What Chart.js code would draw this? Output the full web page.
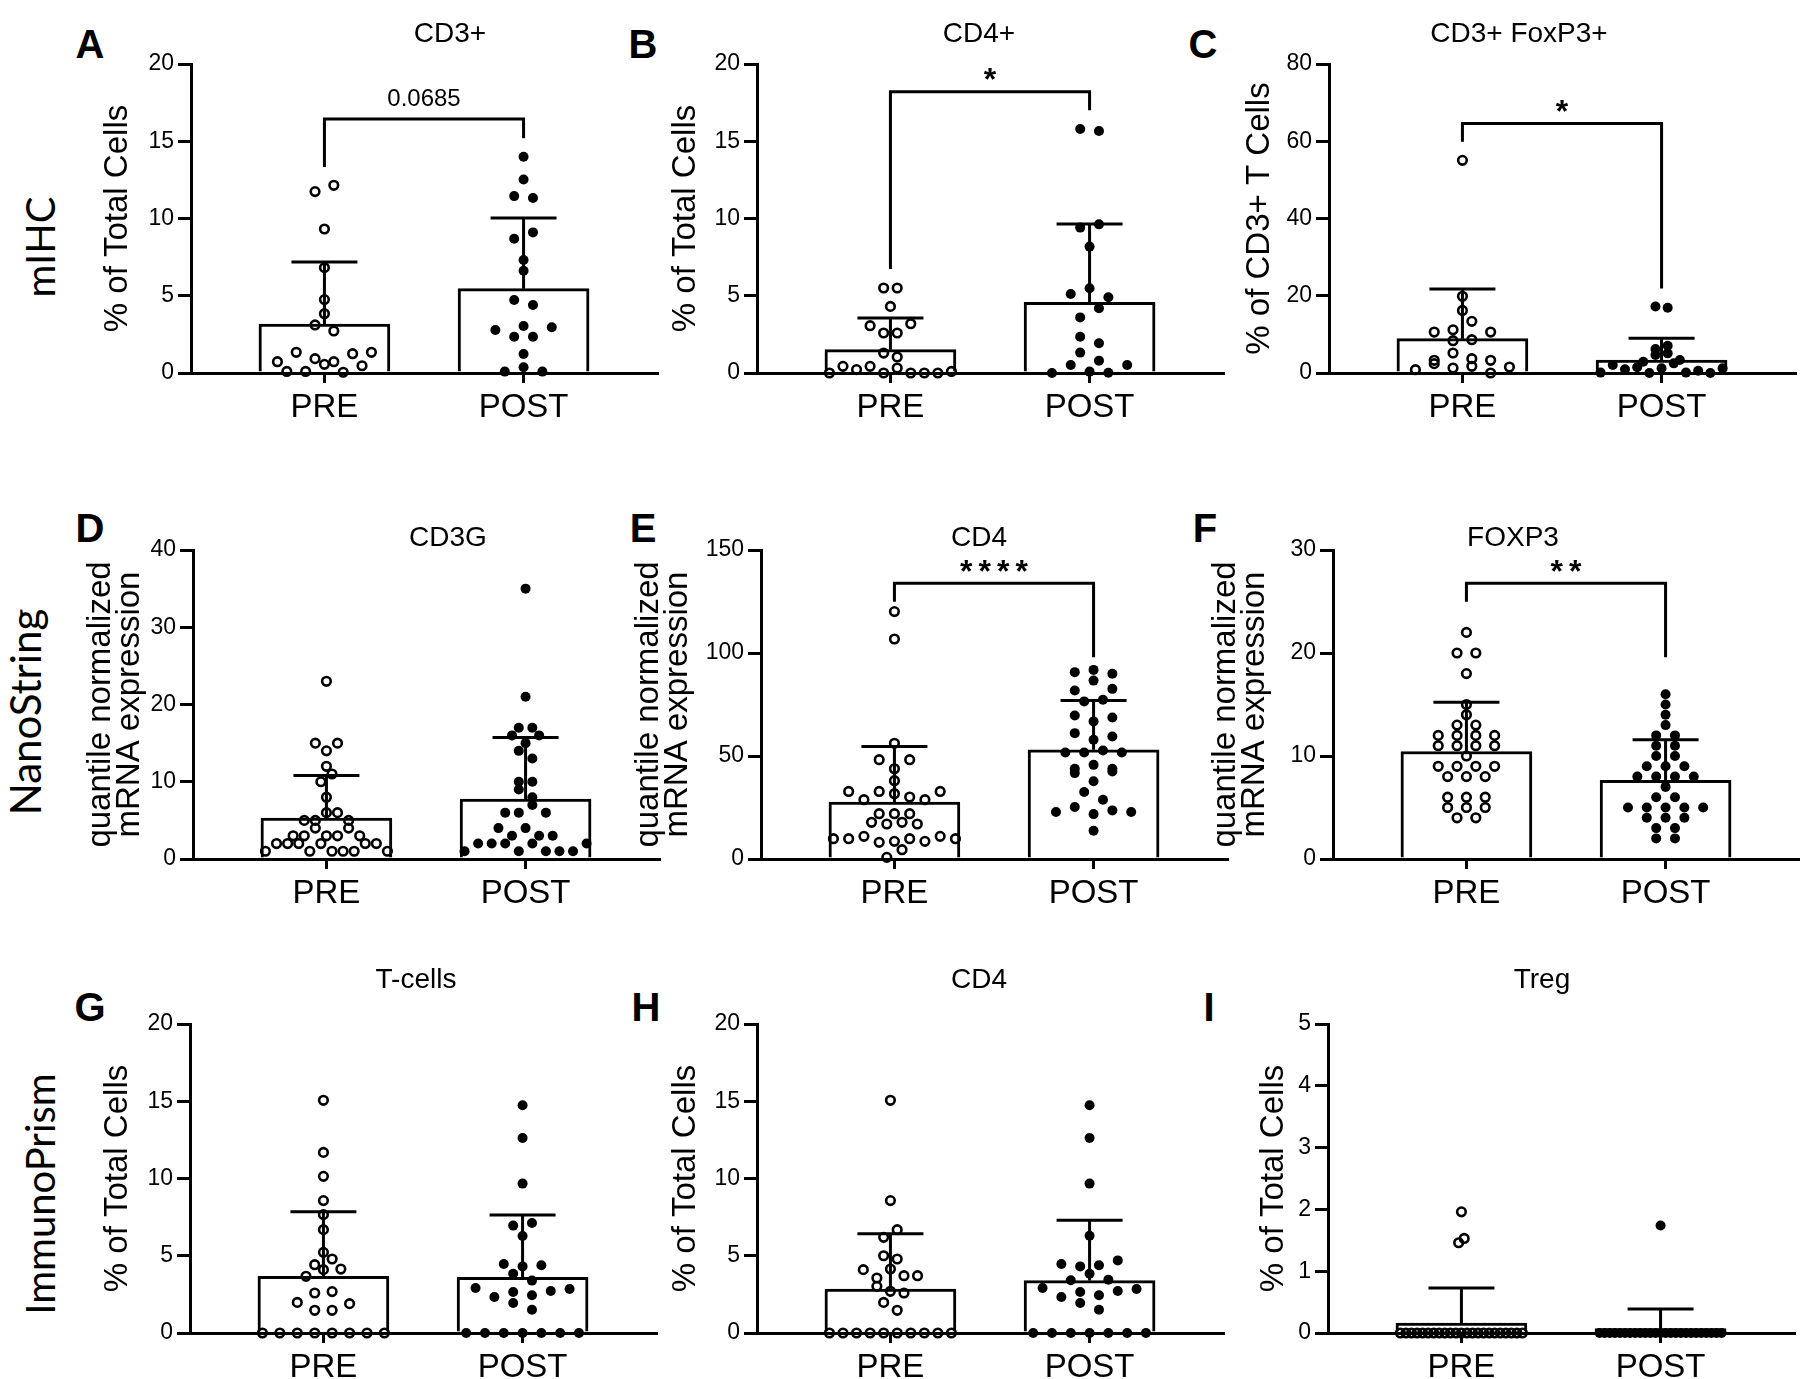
<!DOCTYPE html>
<html><head><meta charset="utf-8">
<script src="https://cdn.jsdelivr.net/npm/chart.js@4.4.1/dist/chart.umd.min.js"></script>
<style>
html,body{margin:0;padding:0;background:#fff;width:1800px;height:1379px;overflow:hidden;position:relative;}
canvas{position:absolute;}
.lbl{position:absolute;transform:translate(-50%,-50%);white-space:nowrap;color:#000;line-height:1;}
.letter{font:bold 40px 'Liberation Sans',Arial,sans-serif;}
.row{font:40px Lato,'Open Sans',sans-serif;transform:translate(-50%,-50%) rotate(-90deg);}
</style></head><body>
<div class="lbl letter" style="left:90px;top:44px">A</div>
<div class="lbl letter" style="left:643px;top:44px">B</div>
<div class="lbl letter" style="left:1203px;top:44px">C</div>
<div class="lbl letter" style="left:90px;top:528px">D</div>
<div class="lbl letter" style="left:643px;top:528px">E</div>
<div class="lbl letter" style="left:1205px;top:528px">F</div>
<div class="lbl letter" style="left:90px;top:1007px">G</div>
<div class="lbl letter" style="left:646px;top:1007px">H</div>
<div class="lbl letter" style="left:1209px;top:1007px">I</div>
<div class="lbl row" style="left:40px;top:247px">mIHC</div>
<div class="lbl row" style="left:25px;top:712px;font-size:42px">NanoString</div>
<div class="lbl row" style="left:40px;top:1194px">ImmunoPrism</div>
<script>
Chart.defaults.font.family = "'Liberation Sans', Arial, sans-serif";
Chart.defaults.color = '#000';

// ---------------- DATA ----------------
const groupLabels = ['PRE', 'POST'];

// A  mIHC CD3+  (% of total cells)
const mihcCd3Pre  = [0.1,0.1,0.56,0.05,0.47,0.73,1.34,0.93,0.73,1.25,1.34,3.11,2.72,3.84,4.75,6.82,9.32,11.74,12.15];
const mihcCd3Post = [0.09,0.37,0.09,1.23,2.78,2.35,2.35,2.96,3.04,4.72,4.40,6.62,7.31,8.69,9.1,11.45,11.33,12.53,14.0];
const mihcCd3Mean = [3.17, 5.46];
const mihcCd3SD   = [4.01, 4.57];
const mihcCd3Bracket = [16.44, 13.33, 15.2];   // bar level, left leg end, right leg end
const mihcCd3Sig = '0.0685';

// B  mIHC CD4+
const mihcCd4Pre  = [0,0.43,0.22,0.43,0,0.32,0,0,0,0.1,1.29,1.04,3.06,2.59,2.59,3.19,4.31,5.5,5.5];
const mihcCd4Post = [0,0.52,0.09,0.02,0.52,1.32,0.8,2.35,1.92,3.6,4.19,5.11,5.48,4.9,8.18,9.41,9.62,15.79,15.66];
const mihcCd4Mean = [1.51, 4.58];
const mihcCd4SD   = [2.05, 5.06];
const mihcCd4Bracket = [18.2, 6.73, 17.0];
const mihcCd4Sig = '*';

// C  mIHC CD3+ FoxP3+ (% of CD3+ T cells)
const mihcTregPre  = [0.86,2.42,1.29,1.73,0,1.55,3.28,5.18,3.71,3.28,10.6,8.37,8.63,10.6,11.2,13.37,16.2,19.85,55.05];
const mihcTregPost = [0.1,2.07,0.95,1.47,0,1.21,2.5,0.1,0.6,0,1.21,2.93,4.66,5.09,3.37,6.2,7.07,17.2,16.9];
const mihcTregMean = [8.89, 3.37];
const mihcTregSD   = [12.85, 5.61];
const mihcTregBracket = [64.6, 59.9, 21.9];
const mihcTregSig = '*';

// D  NanoString CD3G
const nsCd3gPre  = [1,2,2,2,1,2,1,1,1,2,2,1,3,3,4,3,3,4,3,5,5,6,6,5,8,10,11,12,15,14,15,23];
const nsCd3gPost = [1,2,2,2,1,2,1,1,1,2,4,3,4,3,3,6,6,7,6,9,8,10,10,14,13,16,15,16,17,17,21,35];
const nsCd3gMean = [5.3, 7.76];
const nsCd3gSD   = [5.52, 7.97];

// E  NanoString CD4
const nsCd4Pre  = [0.8,4.53,9.86,9.86,11.0,8.08,8.57,9.86,8.57,11.0,9.86,17.8,17.0,17.8,17.0,22,22,22,32.8,28.8,32.8,31.7,30.1,28.8,32.8,38.0,48.2,43.8,48.2,56.2,106.8,120.1];
const nsCd4Post = [13.7,22.8,25.2,21.8,23.6,22.8,32.5,28.8,41.7,37.7,42.5,43.8,45.7,43.8,51.7,51.7,52.7,51.7,61.1,57.9,59.5,69.7,66.8,68.7,76.5,77.3,81.8,86.6,82.6,90.7,91.8,89.9];
const nsCd4Mean = [27.64, 53.0];
const nsCd4SD   = [26.96, 23.9];
const nsCd4Bracket = [133.8, 124.9, 97.9];
const nsCd4Sig = '****';

// F  NanoString FOXP3
const nsFoxp3Pre  = [4,4,5,5,5,6,6,6,8,8,8,9,9,9,9,10,11,11,11,11,12,12,12,12,13,13,14,15,18,20,20,22];
const nsFoxp3Post = [2,2,3,3,4,4,4,5,5,5,5,5,6,6,7,8,8,8,8,9,9,9,10,10,11,11,12,12,13,14,15,16];
const nsFoxp3Mean = [10.44, 7.63];
const nsFoxp3SD   = [4.79, 3.94];
const nsFoxp3Bracket = [26.77, 24.98, 19.58];
const nsFoxp3Sig = '**';

// G  ImmunoPrism T-cells
const ipTPre  = [0,0,0,0,0,0,0,0,1.98,1.47,1.47,1.9,2.59,2.68,3.67,4.1,4.14,4.42,4.79,5.22,6.69,7.66,8.57,10.14,11.69,15.06];
const ipTPost = [0,0,0,0,0,0,0,1.94,1.51,2.91,2.33,2.65,2.44,2.72,2.85,3.84,3.39,4.47,4.31,4.38,6.28,6.95,7.12,9.67,12.62,14.74];
const ipTMean = [3.67, 3.6];
const ipTSD   = [4.18, 4.04];

// H  ImmunoPrism CD4
const ipCd4Pre  = [0,0,0,0,0,0,0,0,0,0,1.98,1.47,3.02,2.7,2.59,4.1,3.56,4.14,3.71,3.71,5.0,4.79,6.19,6.69,8.57,15.06];
const ipCd4Post = [0,0,0,0,0,0,0,1.94,1.51,2.91,2.33,2.65,2.44,2.72,2.85,3.41,3.84,3.45,4.47,4.31,4.38,4.7,6.3,9.67,12.62,14.74];
const ipCd4Mean = [2.85, 3.39];
const ipCd4SD   = [3.58, 3.9];

// I  ImmunoPrism Treg
const ipTregPre  = [0,0,0,0,0,0,0,0,0,0,0,0,0,0,0,0,0,0,0,0,0,0,0,1.46,1.53,1.96];
const ipTregPost = [0,0,0,0,0,0,0,0,0,0,0,0,0,0,0,0,0,0,0,0,0,0,0,0,0,1.74];
const ipTregMean = [0.16, 0.07];
const ipTregSD   = [0.57, 0.32];

// ---------------- PANELS (layout) ----------------
const panels = [
  {title:'CD3+', yTitle:'% of Total Cells', yMax:20, yStep:5, pre:mihcCd3Pre, post:mihcCd3Post, mean:mihcCd3Mean, sd:mihcCd3SD, bracket:mihcCd3Bracket, sig:mihcCd3Sig,
   axisX:191, top:64, titleX:450, titleY:32, yTitleX:118},
  {title:'CD4+', yTitle:'% of Total Cells', yMax:20, yStep:5, pre:mihcCd4Pre, post:mihcCd4Post, mean:mihcCd4Mean, sd:mihcCd4SD, bracket:mihcCd4Bracket, sig:mihcCd4Sig,
   axisX:757, top:64, titleX:979, titleY:32, yTitleX:686},
  {title:'CD3+ FoxP3+', yTitle:'% of CD3+ T Cells', yMax:80, yStep:20, pre:mihcTregPre, post:mihcTregPost, mean:mihcTregMean, sd:mihcTregSD, bracket:mihcTregBracket, sig:mihcTregSig,
   axisX:1329, top:64, titleX:1519, titleY:32, yTitleX:1260},
  {title:'CD3G', yTitle:['quantile normalized','mRNA expression'], yMax:40, yStep:10, pre:nsCd3gPre, post:nsCd3gPost, mean:nsCd3gMean, sd:nsCd3gSD,
   axisX:193, top:550, titleX:448, titleY:536, yTitleX:101},
  {title:'CD4', yTitle:['quantile normalized','mRNA expression'], yMax:150, yStep:50, pre:nsCd4Pre, post:nsCd4Post, mean:nsCd4Mean, sd:nsCd4SD, bracket:nsCd4Bracket, sig:nsCd4Sig,
   axisX:761, top:550, titleX:979, titleY:536, yTitleX:649},
  {title:'FOXP3', yTitle:['quantile normalized','mRNA expression'], yMax:30, yStep:10, pre:nsFoxp3Pre, post:nsFoxp3Post, mean:nsFoxp3Mean, sd:nsFoxp3SD, bracket:nsFoxp3Bracket, sig:nsFoxp3Sig,
   axisX:1333, top:550, titleX:1513, titleY:536, yTitleX:1226},
  {title:'T-cells', yTitle:'% of Total Cells', yMax:20, yStep:5, pre:ipTPre, post:ipTPost, mean:ipTMean, sd:ipTSD,
   axisX:190, top:1024, titleX:416, titleY:978, yTitleX:118},
  {title:'CD4', yTitle:'% of Total Cells', yMax:20, yStep:5, pre:ipCd4Pre, post:ipCd4Post, mean:ipCd4Mean, sd:ipCd4SD,
   axisX:757, top:1024, titleX:979, titleY:978, yTitleX:686},
  {title:'Treg', yTitle:'% of Total Cells', yMax:5, yStep:1, pre:ipTregPre, post:ipTregPost, mean:ipTregMean, sd:ipTregSD,
   axisX:1328, top:1024, titleX:1542, titleY:978, yTitleX:1274},
];

const Y_BOX = 130, X_BOX = 60, PAD_TOP = 60, PAD_RIGHT = 12, PLOT_W = 466, PLOT_H = 309;
const X_MIN = 0.33, X_MAX = 2.67;
const BIN_PX = 10, S_MAX = 18.8, ROW_W = 122;
const Y_TITLE_SIZE = 33;
const TITLE_SIZE = 28;

const prismPlugin = {
  id: 'prism',
  afterDatasetDraw(chart, args, opts) {
    if (args.index !== 0) return;
    const {ctx} = chart; const xs = chart.scales.x, ys = chart.scales.y;
    ctx.save();
    ctx.strokeStyle = '#000'; ctx.lineWidth = 3; ctx.lineCap = 'butt';
    opts.mean.forEach((m, i) => {
      const x = xs.getPixelForValue(i + 1);
      const y0 = ys.getPixelForValue(m), y1 = ys.getPixelForValue(m + opts.sd[i]);
      ctx.beginPath(); ctx.moveTo(x, y0); ctx.lineTo(x, y1);
      ctx.moveTo(x - 33, y1); ctx.lineTo(x + 33, y1); ctx.stroke();
    });
    ctx.restore();
  },
  afterDraw(chart, args, opts) {
    const {ctx} = chart; const xs = chart.scales.x, ys = chart.scales.y;
    ctx.save();
    ctx.fillStyle = '#000';
    // panel title
    ctx.font = TITLE_SIZE + "px 'Liberation Sans', Arial, sans-serif";
    ctx.textAlign = 'center'; ctx.textBaseline = 'alphabetic';
    ctx.fillText(opts.title, opts.titleX, opts.titleY + 0.36 * TITLE_SIZE);
    // significance bracket
    if (opts.bracket) {
      const xl = xs.getPixelForValue(1), xr = xs.getPixelForValue(2);
      const yt = ys.getPixelForValue(opts.bracket[0]);
      const yl = ys.getPixelForValue(opts.bracket[1]), yr = ys.getPixelForValue(opts.bracket[2]);
      ctx.strokeStyle = '#000'; ctx.lineWidth = 3; ctx.lineJoin = 'miter';
      ctx.beginPath(); ctx.moveTo(xl, yl); ctx.lineTo(xl, yt); ctx.lineTo(xr, yt); ctx.lineTo(xr, yr); ctx.stroke();
      const cx = (xl + xr) / 2;
      if (/^\*+$/.test(opts.sig)) {
        const fs = 32; const ls = 6;
        ctx.font = "bold " + fs + "px 'Liberation Sans', Arial, sans-serif";
        if ('letterSpacing' in ctx) ctx.letterSpacing = ls + 'px';
        ctx.fillText(opts.sig, cx + ls / 2, yt - 20 + 0.57 * fs);
      } else {
        const fs = 24;
        ctx.font = fs + "px 'Liberation Sans', Arial, sans-serif";
        ctx.fillText(opts.sig, cx, yt - 22 + 0.36 * fs);
      }
    }
    ctx.restore();
  }
};

function swarmOffsets(values, ys, pxPerX) {
  const px = values.map(v => ys.getPixelForValue(v));
  const order = values.map((v, i) => i).sort((a, b) => values[a] - values[b] || a - b);
  const bins = []; let cur = null;
  for (const i of order) {
    if (!cur || Math.abs(px[cur.start] - px[i]) > BIN_PX) { cur = {start: i, m: []}; bins.push(cur); }
    cur.m.push(i);
  }
  const maxN = Math.max(...bins.map(b => b.m.length));
  const S = maxN > 1 ? Math.min(S_MAX, ROW_W / (maxN - 1)) : S_MAX;
  const off = new Array(values.length).fill(0);
  bins.forEach(b => {
    b.m.sort((a, c) => a - c);
    const n = b.m.length;
    b.m.forEach((i, k) => { off[i] = (k - (n - 1) / 2) * S / pxPerX; });
  });
  return off;
}

panels.forEach(p => {
  const cv = document.createElement('canvas');
  const left = p.axisX - Y_BOX, top = p.top - PAD_TOP;
  const W = Y_BOX + PLOT_W + PAD_RIGHT, H = PAD_TOP + PLOT_H + X_BOX;
  cv.width = W; cv.height = H;
  cv.style.left = left + 'px'; cv.style.top = top + 'px';
  cv.style.width = W + 'px'; cv.style.height = H + 'px';
  document.body.appendChild(cv);
  const multi = Array.isArray(p.yTitle);
  const lhMul = multi ? 0.88 : 1.0;
  const lh = Y_TITLE_SIZE * lhMul;
  const titlePad = (p.yTitleX - left) - lh / 2;

  const chart = new Chart(cv, {
    type: 'bar',
    data: {
      datasets: [
        {type: 'bar', data: p.mean.map((m, i) => ({x: i + 1, y: m})), backgroundColor: '#fff', borderColor: '#000',
         borderWidth: 3, barThickness: 131, order: 2},
        {type: 'scatter', data: p.pre.map(v => ({x: 1, y: v})), pointRadius: 4.3, pointBorderWidth: 2.6,
         pointBackgroundColor: 'rgba(0,0,0,0)', pointBorderColor: '#000', pointStyle: 'circle', clip: false, order: 1},
        {type: 'scatter', data: p.post.map(v => ({x: 2, y: v})), pointRadius: 5.0, pointBorderWidth: 0,
         pointBackgroundColor: '#000', pointBorderColor: '#000', pointStyle: 'circle', clip: false, order: 1},
      ]
    },
    options: {
      responsive: false, animation: false, events: [], devicePixelRatio: 1,
      layout: {padding: {left: 0, right: PAD_RIGHT, top: PAD_TOP, bottom: 0}, autoPadding: false},
      plugins: {legend: {display: false}, tooltip: {enabled: false},
        prism: {mean: p.mean, sd: p.sd, bracket: p.bracket, sig: p.sig, title: p.title,
                titleX: p.titleX - left, titleY: p.titleY - top}},
      scales: {
        x: {type: 'linear', min: X_MIN, max: X_MAX, offset: false,
            afterBuildTicks: s => { s.ticks = [{value: 1}, {value: 2}]; },
            afterFit: s => { s.height = X_BOX; },
            ticks: {callback: v => groupLabels[v - 1], font: {size: 33}, padding: 5, autoSkip: false, maxRotation: 0, color: '#000'},
            grid: {drawOnChartArea: false, drawTicks: true, tickLength: 10, color: '#000', lineWidth: 3, offset: false},
            border: {display: true, color: '#000', width: 3}},
        y: {type: 'linear', min: 0, max: p.yMax,
            afterFit: s => { s.width = Y_BOX; },
            ticks: {stepSize: p.yStep, font: {size: 23}, padding: 4, color: '#000'},
            grid: {drawOnChartArea: false, drawTicks: true, tickLength: 13, color: '#000', lineWidth: 3},
            border: {display: true, color: '#000', width: 3},
            title: {display: true, text: p.yTitle, font: {size: Y_TITLE_SIZE, lineHeight: lhMul}, padding: {top: titlePad, bottom: 0}, color: '#000'}}
      }
    },
    plugins: [prismPlugin]
  });

  const xs = chart.scales.x, ys = chart.scales.y;
  const pxPerX = xs.getPixelForValue(2) - xs.getPixelForValue(1);
  const offPre = swarmOffsets(p.pre, ys, pxPerX);
  const offPost = swarmOffsets(p.post, ys, pxPerX);
  chart.data.datasets[1].data = p.pre.map((v, i) => ({x: 1 + offPre[i], y: v}));
  chart.data.datasets[2].data = p.post.map((v, i) => ({x: 2 + offPost[i], y: v}));
  chart.update('none');
});
</script>
</body></html>
